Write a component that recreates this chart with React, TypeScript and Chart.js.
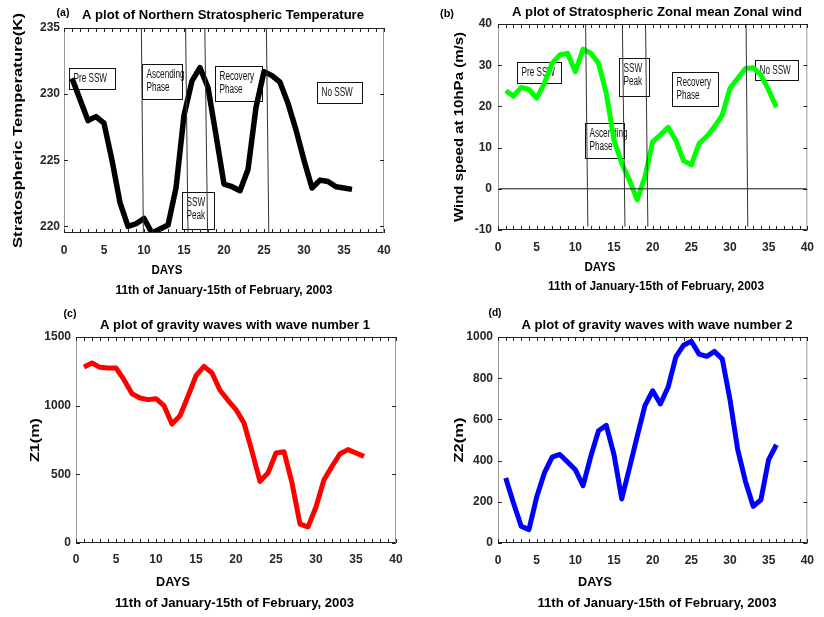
import React, { useEffect, useRef } from 'react';
import { Chart, registerables } from 'chart.js';

Chart.register(...registerables);

// ---------------- DATA ----------------
const days = [1, 2, 3, 4, 5, 6, 7, 8, 9, 10, 11, 12, 13, 14, 15, 16, 17, 18, 19, 20, 21, 22, 23, 24, 25, 26, 27, 28, 29, 30, 31, 32, 33, 34, 35, 36];

const temperatureK = [231.2, 229.6, 228.0, 228.3, 227.8, 225.0, 221.8, 220.0, 220.2, 220.6, 219.5, 219.8, 220.1, 222.9, 228.4, 231.0, 232.0, 230.5, 226.9, 223.2, 223.0, 222.7, 224.3, 229.0, 231.7, 231.4, 230.9, 229.3, 227.3, 225.0, 222.9, 223.5, 223.4, 223.0, 222.9, 222.8];

const windSpeed = [23.8, 22.5, 24.6, 24.1, 22.0, 25.6, 30.5, 32.5, 32.9, 28.4, 33.9, 32.9, 30.5, 23.2, 11.8, 6.2, 2.1, -2.7, 2.9, 11.4, 13.1, 14.9, 11.8, 6.8, 5.8, 11.0, 12.7, 15.1, 17.9, 24.4, 26.8, 29.2, 29.4, 27.6, 24.0, 19.8];

const z1 = [1281, 1311, 1279, 1274, 1274, 1189, 1087, 1056, 1044, 1051, 1000, 866, 927, 1068, 1218, 1286, 1238, 1112, 1039, 971, 874, 667, 449, 510, 655, 665, 437, 138, 117, 262, 461, 558, 650, 680, 655, 631];

const z2 = [316, 194, 81, 65, 223, 340, 417, 430, 393, 356, 278, 421, 545, 571, 429, 214, 364, 518, 667, 739, 675, 757, 903, 960, 979, 917, 906, 930, 893, 696, 453, 299, 178, 210, 405, 477];

const xTicks = [0, 5, 10, 15, 20, 25, 30, 35, 40];
const xMinorTicks = [0, 1, 2, 3, 4, 5, 6, 7, 8, 9, 10, 11, 12, 13, 14, 15, 16, 17, 18, 19, 20, 21, 22, 23, 24, 25, 26, 27, 28, 29, 30, 31, 32, 33, 34, 35, 36, 37, 38, 39, 40];
const yTicksA = [220, 225, 230, 235];
const yTicksB = [-10, 0, 10, 20, 30, 40];
const yTicksC = [0, 500, 1000, 1500];
const yTicksD = [0, 200, 400, 600, 800, 1000];

// phase separator lines: [x at top, x at bottom]
const phaseLinesA = [[9.67, 9.92], [15.2, 15.5], [17.6, 17.95], [25.3, 25.6]];
const phaseLinesB = [[11.33, 11.62], [16.08, 16.42], [19.08, 19.38], [32.08, 32.3]];
const zeroLineB = [[0, 0], [40, 0]];

type Box = { x0: number; x1: number; y0: number; y1: number; lines: string[] };

const boxesA: Box[] = [
  { x0: 0.6, x1: 6.4, y0: 230.4, y1: 232.0, lines: ['Pre SSW'] },
  { x0: 9.7, x1: 14.7, y0: 229.6, y1: 232.3, lines: ['Ascending', 'Phase'] },
  { x0: 14.8, x1: 18.7, y0: 219.8, y1: 222.6, lines: ['SSW', 'Peak'] },
  { x0: 18.9, x1: 24.8, y0: 229.5, y1: 232.1, lines: ['Recovery', 'Phase'] },
  { x0: 31.6, x1: 37.2, y0: 229.3, y1: 230.9, lines: ['No SSW'] },
];
const boxesB: Box[] = [
  { x0: 2.4, x1: 8.2, y0: 25.8, y1: 30.7, lines: ['Pre SSW'] },
  { x0: 11.25, x1: 16.25, y0: 7.4, y1: 15.9, lines: ['Ascending', 'Phase'] },
  { x0: 15.7, x1: 19.5, y0: 22.5, y1: 31.7, lines: ['SSW', 'Peak'] },
  { x0: 22.5, x1: 28.4, y0: 20.2, y1: 28.4, lines: ['Recovery', 'Phase'] },
  { x0: 33.2, x1: 38.75, y0: 26.4, y1: 31.3, lines: ['No SSW'] },
];

const xTitle = 'DAYS';
const xSubtitle = '11th of January-15th of February, 2003';

// ---------------- LAYOUT ----------------
const FONT = "'Liberation Sans', Arial, Helvetica, sans-serif";

type Txt = { text: string; x: number; y: number; w: number; size: number; rot?: boolean };

type PanelSpec = {
  left: number; top: number; w: number; h: number;
  area: { l: number; r: number; t: number; b: number };
  yMin: number; yMax: number; yTicks: number[];
  values: number[]; color: string; lineWidth: number;
  vlines: number[][]; vTop: number; vBottom: number;
  hline?: number[][];
  boxes: Box[];
  yPad: number; xPad: number;
  texts: Txt[];
};

const panels: PanelSpec[] = [
  {
    left: 0, top: 0, w: 412, h: 300,
    area: { l: 64, r: 384, t: 28, b: 233 },
    yMin: 219.5, yMax: 235, yTicks: yTicksA,
    values: temperatureK, color: '#000000', lineWidth: 5.5,
    vlines: phaseLinesA, vTop: 235, vBottom: 219.5,
    boxes: boxesA, yPad: 4, xPad: 10,
    texts: [
      { text: '(a)', x: 63, y: 13, w: 13, size: 11 },
      { text: 'A plot of Northern Stratospheric Temperature', x: 223, y: 15, w: 282, size: 13 },
      { text: 'Stratospheric Temperature(K)', x: 18, y: 130.5, w: 235, size: 13, rot: true },
      { text: xTitle, x: 167, y: 270, w: 31, size: 13.5 },
      { text: xSubtitle, x: 224, y: 290, w: 217, size: 13.5 },
    ],
  },
  {
    left: 412, top: 0, w: 412, h: 300,
    area: { l: 86, r: 405, t: 24, b: 230 },
    yMin: -10, yMax: 40, yTicks: yTicksB,
    values: windSpeed, color: '#00ff00', lineWidth: 5,
    vlines: phaseLinesB, vTop: 40, vBottom: -9.2,
    hline: zeroLineB,
    boxes: boxesB, yPad: 6, xPad: 10,
    texts: [
      { text: '(b)', x: 35, y: 14, w: 14, size: 11 },
      { text: 'A plot of Stratospheric Zonal mean Zonal wind', x: 245, y: 12, w: 290, size: 13 },
      { text: 'Wind speed at 10hPa (m/s)', x: 47, y: 127, w: 190, size: 13, rot: true },
      { text: xTitle, x: 188, y: 267, w: 31, size: 13.5 },
      { text: xSubtitle, x: 244, y: 286, w: 216, size: 13.5 },
    ],
  },
  {
    left: 0, top: 300, w: 412, h: 317,
    area: { l: 76, r: 396, t: 37, b: 243 },
    yMin: 0, yMax: 1500, yTicks: yTicksC,
    values: z1, color: '#ff0000', lineWidth: 5,
    vlines: [], vTop: 0, vBottom: 0,
    boxes: [], yPad: 5, xPad: 9,
    texts: [
      { text: '(c)', x: 70, y: 13.5, w: 13, size: 11 },
      { text: 'A plot of gravity waves with wave number 1', x: 235, y: 25, w: 270, size: 13 },
      { text: 'Z1(m)', x: 35, y: 140, w: 44, size: 13, rot: true },
      { text: xTitle, x: 173, y: 282, w: 34, size: 13.5 },
      { text: xSubtitle, x: 234.5, y: 303, w: 239, size: 13.5 },
    ],
  },
  {
    left: 412, top: 300, w: 412, h: 317,
    area: { l: 86, r: 406, t: 37, b: 243 },
    yMin: 0, yMax: 1000, yTicks: yTicksD,
    values: z2, color: '#0000ff', lineWidth: 5,
    vlines: [], vTop: 0, vBottom: 0,
    boxes: [], yPad: 5, xPad: 10,
    texts: [
      { text: '(d)', x: 83, y: 13, w: 13, size: 11 },
      { text: 'A plot of gravity waves with wave number 2', x: 245, y: 25, w: 271, size: 13 },
      { text: 'Z2(m)', x: 47, y: 140, w: 45, size: 13, rot: true },
      { text: xTitle, x: 183, y: 282, w: 34, size: 13.5 },
      { text: xSubtitle, x: 245, y: 303, w: 239, size: 13.5 },
    ],
  },
];

function drawFitted(ctx: CanvasRenderingContext2D, t: Txt) {
  ctx.save();
  ctx.font = `bold ${t.size}px ${FONT}`;
  ctx.fillStyle = '#000';
  ctx.textAlign = 'center';
  ctx.textBaseline = 'middle';
  const m = ctx.measureText(t.text).width || 1;
  const s = t.w / m;
  ctx.translate(t.x, t.y);
  if (t.rot) ctx.rotate(-Math.PI / 2);
  ctx.scale(s, 1);
  ctx.fillText(t.text, 0, 0);
  ctx.restore();
}

function makePlugin(p: PanelSpec) {
  return {
    id: 'matlabFrame',
    beforeDatasetsDraw(chart: any) {
      const ctx: CanvasRenderingContext2D = chart.ctx;
      const xs = chart.scales.x;
      const ys = chart.scales.y;
      ctx.save();
      for (const b of p.boxes) {
        const x0 = Math.round(xs.getPixelForValue(b.x0)) + 0.5;
        const x1 = Math.round(xs.getPixelForValue(b.x1)) + 0.5;
        const yTop = Math.round(ys.getPixelForValue(b.y1)) + 0.5;
        const yBot = Math.round(ys.getPixelForValue(b.y0)) + 0.5;
        ctx.strokeStyle = '#111';
        ctx.lineWidth = 1;
        ctx.strokeRect(x0, yTop, x1 - x0, yBot - yTop);
        ctx.fillStyle = '#111';
        ctx.font = `12px ${FONT}`;
        ctx.textAlign = 'left';
        ctx.textBaseline = 'middle';
        b.lines.forEach((ln, i) => {
          ctx.save();
          ctx.translate(x0 + 4, yTop + 10.5 + i * 13);
          ctx.scale(0.68, 1);
          ctx.fillText(ln, 0, 0);
          ctx.restore();
        });
      }
      ctx.restore();
    },
    afterDraw(chart: any) {
      const ctx: CanvasRenderingContext2D = chart.ctx;
      const a = chart.chartArea;
      const xs = chart.scales.x;
      const ys = chart.scales.y;
      ctx.save();
      // frame
      ctx.lineWidth = 1;
      ctx.strokeStyle = '#222';
      ctx.beginPath();
      ctx.moveTo(a.left, a.top + 0.5); ctx.lineTo(a.right, a.top + 0.5);
      ctx.moveTo(a.left, a.bottom - 0.5); ctx.lineTo(a.right, a.bottom - 0.5);
      ctx.stroke();
      ctx.strokeStyle = '#9a9a9a';
      ctx.beginPath();
      ctx.moveTo(a.left + 0.5, a.top); ctx.lineTo(a.left + 0.5, a.bottom);
      ctx.moveTo(a.right - 0.5, a.top); ctx.lineTo(a.right - 0.5, a.bottom);
      ctx.stroke();
      // inward ticks
      ctx.strokeStyle = '#222';
      ctx.beginPath();
      for (const v of xMinorTicks) {
        const px = Math.round(xs.getPixelForValue(v)) + 0.5;
        ctx.moveTo(px, a.bottom); ctx.lineTo(px, a.bottom - 4);
        ctx.moveTo(px, a.top); ctx.lineTo(px, a.top + 4);
      }
      for (const v of p.yTicks) {
        const py = Math.round(ys.getPixelForValue(v)) + 0.5;
        ctx.moveTo(a.left, py); ctx.lineTo(a.left + 4, py);
        ctx.moveTo(a.right, py); ctx.lineTo(a.right - 4, py);
      }
      ctx.stroke();
      ctx.restore();
      for (const t of p.texts) drawFitted(ctx, t);
    },
  };
}

function makeConfig(p: PanelSpec): any {
  const tickFont = { family: FONT, size: 12, weight: 'bold' as const };
  const datasets: any[] = [
    {
      data: days.map((d, i) => ({ x: d, y: p.values[i] })),
      borderColor: p.color,
      borderWidth: p.lineWidth,
      pointRadius: 0,
      tension: 0,
      borderJoinStyle: 'round',
      order: 2,
    },
  ];
  for (const v of p.vlines) {
    datasets.push({
      data: [{ x: v[0], y: p.vTop }, { x: v[1], y: p.vBottom }],
      borderColor: '#333',
      borderWidth: 1,
      pointRadius: 0,
      order: 1,
    });
  }
  if (p.hline) {
    datasets.push({
      data: p.hline.map((q) => ({ x: q[0], y: q[1] })),
      borderColor: '#111',
      borderWidth: 1,
      pointRadius: 0,
      order: 1,
    });
  }
  const plain = (v: any) => String(v);
  return {
    type: 'line',
    data: { datasets },
    options: {
      animation: false,
      responsive: false,
      devicePixelRatio: 1,
      events: [],
      layout: { padding: { left: 0, top: p.area.t, right: p.w - p.area.r, bottom: 0 } },
      plugins: { legend: { display: false }, tooltip: { enabled: false }, title: { display: false } },
      scales: {
        x: {
          type: 'linear',
          min: 0,
          max: 40,
          grid: { display: false, drawTicks: false },
          border: { display: false },
          ticks: { font: tickFont, color: '#262626', padding: p.xPad, maxRotation: 0, autoSkip: false, callback: plain },
          afterBuildTicks: (s: any) => { s.ticks = xTicks.map((v) => ({ value: v })); },
          afterFit: (s: any) => { s.height = p.h - p.area.b; },
        },
        y: {
          type: 'linear',
          min: p.yMin,
          max: p.yMax,
          grid: { display: false, drawTicks: false },
          border: { display: false },
          ticks: { font: tickFont, color: '#262626', padding: p.yPad, autoSkip: false, callback: plain },
          afterBuildTicks: (s: any) => { s.ticks = p.yTicks.map((v) => ({ value: v })); },
          afterFit: (s: any) => { s.width = p.area.l; },
        },
      },
    },
    plugins: [makePlugin(p)],
  };
}

function Panel({ p }: { p: PanelSpec }) {
  const ref = useRef<HTMLCanvasElement>(null);
  useEffect(() => {
    if (!ref.current) return;
    const chart = new Chart(ref.current, makeConfig(p));
    return () => chart.destroy();
  }, [p]);
  return (
    <canvas
      ref={ref}
      width={p.w}
      height={p.h}
      style={{ position: 'absolute', left: p.left, top: p.top, width: p.w, height: p.h }}
    />
  );
}

export default function App() {
  return (
    <div style={{ position: 'fixed', left: 0, top: 0, width: 824, height: 617, background: '#ffffff' }}>
      {panels.map((p, i) => (
        <Panel key={i} p={p} />
      ))}
    </div>
  );
}
